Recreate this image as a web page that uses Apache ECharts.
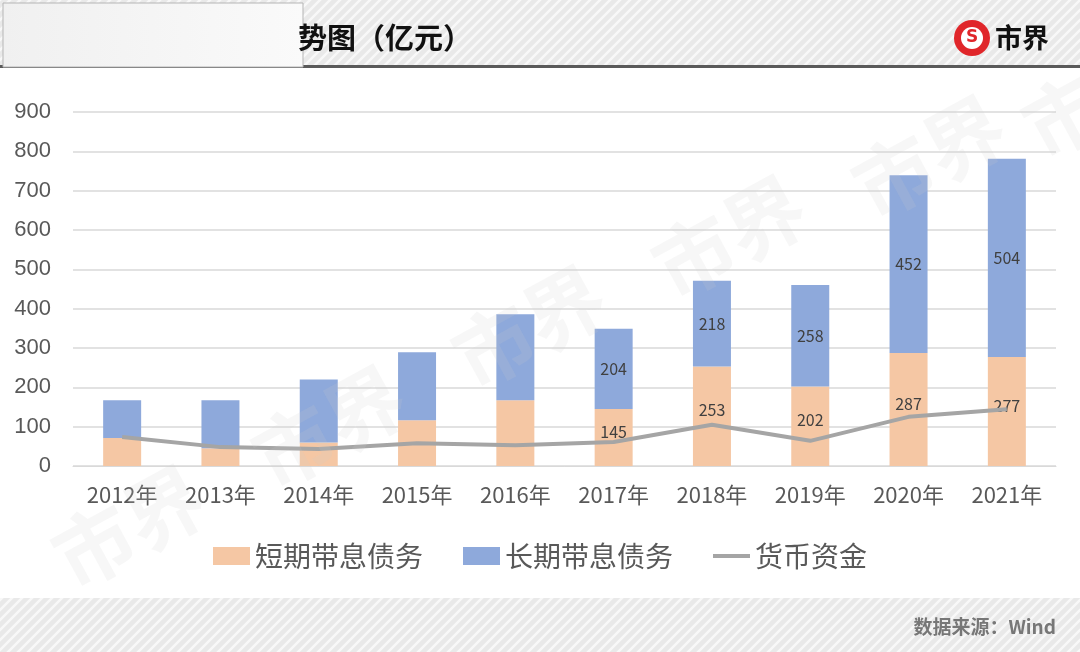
<!DOCTYPE html>
<html><head><meta charset="utf-8">
<script src="https://cdn.jsdelivr.net/npm/echarts@6/dist/echarts.min.js"></script>
<style>html,body{margin:0;padding:0;background:#fff}#c{width:1080px;height:652px}</style>
</head><body><div id="c"></div>
<script>
const categories = ['2012年','2013年','2014年','2015年','2016年','2017年','2018年','2019年','2020年','2021年'];
const shortDebt = [71, 45, 60, 116, 167, 145, 253, 202, 287, 277];
const longDebt = [96, 122, 160, 173, 219, 204, 218, 258, 452, 504];
const cash = [74, 48, 43, 58, 53, 61, 105, 64, 125, 144];
const yTicks = {min: 0, max: 900, interval: 100};
const labelFromIndex = 5;

function stripe() {
  const cv = document.createElement('canvas');
  cv.width = 10; cv.height = 10;
  const g = cv.getContext('2d');
  g.fillStyle = '#e9e9e9'; g.fillRect(0,0,10,10);
  g.strokeStyle = '#f8f8f8'; g.lineWidth = 2.5;
  g.beginPath();
  g.moveTo(-3,13); g.lineTo(13,-3);
  g.moveTo(-8,8); g.lineTo(8,-8);
  g.moveTo(2,18); g.lineTo(18,2);
  g.stroke();
  return cv;
}
const pat = {image: stripe(), repeat: 'repeat'};

const chart = echarts.init(document.getElementById('c'));
const wm = [];
[[40,530],[240,430],[440,330],[640,240],[840,160],[1010,100]].forEach(p => {
  wm.push({type:'text', x:p[0], y:p[1], rotation: 0.5, z: 50, silent:true,
    style:{text:'市界', font:'bold 80px "Noto Sans CJK SC"', fill:'rgba(205,205,205,0.16)'}});
});
chart.setOption({
  animation: false,
  textStyle: {fontFamily: '"Noto Sans CJK SC", "Noto Sans", sans-serif'},
  grid: {left: 73, right: 24, top: 112, bottom: 186},
  xAxis: {
    type: 'category', data: categories,
    axisLine: {lineStyle: {color: '#d9d9d9'}}, axisTick: {show: false},
    axisLabel: {color: '#595959', fontSize: 22, margin: 18, fontFamily: '"Noto Sans CJK SC"'}
  },
  yAxis: {
    type: 'value', min: yTicks.min, max: yTicks.max, interval: yTicks.interval,
    splitLine: {lineStyle: {color: '#d9d9d9', width: 1.5}},
    axisLabel: {color: '#595959', fontSize: 22, margin: 22, fontFamily: '"Liberation Sans", sans-serif'}
  },
  legend: {
    top: 537, left: 'center', itemWidth: 37, itemHeight: 18, itemGap: 40,
    textStyle: {color: '#595959', fontSize: 28, padding: [0,0,0,0]},
    data: [
      {name: '短期带息债务', icon: 'rect'},
      {name: '长期带息债务', icon: 'rect'},
      {name: '货币资金', icon: 'path://M0,7 L37,7 L37,11 L0,11 Z'}
    ]
  },
  series: [
    {name: '短期带息债务', type: 'bar', stack: 'd', data: shortDebt, barWidth: 38,
      itemStyle: {color: '#F5C7A4'},
      label: {show: true, position: 'inside', color: '#404040', fontSize: 16, offset:[0,-6],
        formatter: p => p.dataIndex >= labelFromIndex ? p.value : ''}},
    {name: '长期带息债务', type: 'bar', stack: 'd', data: longDebt, barWidth: 38,
      itemStyle: {color: '#8EA9DB'},
      label: {show: true, position: 'inside', color: '#404040', fontSize: 16,
        formatter: p => p.dataIndex >= labelFromIndex ? p.value : ''}},
    {name: '货币资金', type: 'line', data: cash, symbol: 'none', z: 5,
      lineStyle: {color: '#A5A5A5', width: 4}, itemStyle: {color: '#A5A5A5'}}
  ],
  graphic: [
    {type:'rect', shape:{x:0,y:0,width:1080,height:66}, style:{fill: pat}, silent:true},
    {type:'rect', shape:{x:0,y:65,width:1080,height:3}, style:{fill:'#5a5a5a'}, silent:true},
    {type:'rect', shape:{x:3,y:3,width:300,height:64}, style:{fill: new echarts.graphic.LinearGradient(0,0,1,0,[{offset:0,color:'#f0f0f0'},{offset:1,color:'#fafafa'}]), stroke:'#b5b5b5', lineWidth:1}, silent:true},
    {type:'text', x:298, y:38, style:{text:'势图（亿元）', font:'bold 29px "Noto Sans CJK SC"', fill:'#111', verticalAlign:'middle'}},
    {type:'circle', shape:{cx:972, cy:38, r:18}, style:{fill:'#e0262a'}},
    {type:'circle', shape:{cx:972, cy:38, r:11}, style:{fill:'#fff'}},
    {type:'text', x:972, y:38, style:{text:'S', font:'bold 17px "DejaVu Sans"', fill:'#e0262a', align:'center', verticalAlign:'middle'}},
    {type:'text', x:995, y:38, style:{text:'市界', font:'bold 27px "Noto Sans CJK SC"', fill:'#111', verticalAlign:'middle'}},
    {type:'rect', shape:{x:0,y:598,width:1080,height:54}, style:{fill: pat}, silent:true},
    {type:'text', x:1056, y:627, style:{text:'数据来源：Wind', font:'bold 19px "Noto Sans CJK SC"', fill:'#777', align:'right', verticalAlign:'middle'}}
  ].concat(wm)
});
</script></body></html>
